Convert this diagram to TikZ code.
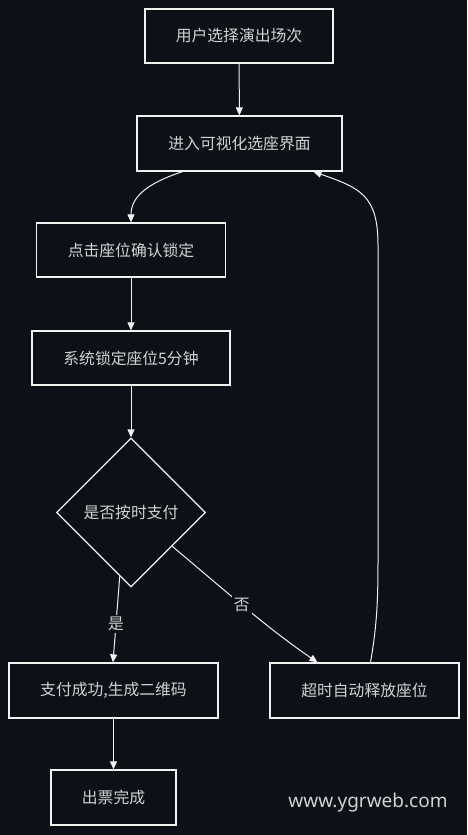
\documentclass[tikz,border=0pt]{standalone}
\usepackage{fontspec}
\setmainfont{Noto Sans CJK SC}
\newfontfamily\markfont{Noto Sans}
\usetikzlibrary{shapes.geometric,arrows.meta,calc}
\definecolor{bgdark}{HTML}{0D1017}
\definecolor{inkline}{HTML}{F2F2F2}
\definecolor{inktext}{HTML}{D2D2D2}

\begin{document}
\begin{tikzpicture}[x=1pt,y=-1pt,
  procbox/.style={draw=inkline,line width=1.3pt,fill=bgdark,text=inktext,inner sep=0pt,font=\fontsize{15.8}{19}\selectfont},
  decide/.style={diamond,aspect=1,draw=inkline,line width=1.3pt,fill=bgdark,text=inktext,inner sep=0pt,minimum width=149pt,minimum height=149pt,font=\fontsize{15.8}{19}\selectfont},
  flow/.style={draw=inkline,line width=1pt,-{Triangle[width=7pt,length=8pt]}},
  lbl/.style={fill=bgdark,text=inktext,inner sep=2pt,font=\fontsize{15.8}{19}\selectfont}]
\fill[bgdark] (0,0) rectangle (467,835);

% boxes
\node[procbox,minimum width=188pt,minimum height=54pt] (pick) at (239,36) {用户选择演出场次};
\node[procbox,minimum width=205pt,minimum height=55pt] (seatui) at (239.5,143.5) {进入可视化选座界面};
\node[procbox,minimum width=189pt,minimum height=54pt] (click) at (131,250) {点击座位确认锁定};
\node[procbox,minimum width=198pt,minimum height=54pt] (lock) at (131,358) {系统锁定座位5分钟};
\node[decide] (paid) at (131,512.5) {是否按时支付};
\node[procbox,minimum width=209pt,minimum height=55pt] (success) at (113.5,690.5) {支付成功,生成二维码};
\node[procbox,minimum width=189pt,minimum height=55pt] (release) at (364.5,690.5) {超时自动释放座位};
\node[procbox,minimum width=125pt,minimum height=55pt] (ticket) at (113.5,797.5) {出票完成};
\node[text=inktext,font=\markfont\fontsize{19}{23}\selectfont] (mark) at (368,803) {www.ygrweb.com};

% connectors
\draw[flow] (pick) -- (seatui);
\draw[flow] ([xshift=-57pt]seatui.south) .. controls (145,184) and (131,198) .. (click.north);
\draw[flow] (click) -- (lock);
\draw[flow] (lock) -- (paid);
\draw[flow] ($(paid.south)!0.15!(paid.west)$) -- node[lbl,pos=0.55] {是} ([xshift=-0.5pt]success.north);
\draw[flow] ($(paid.south)!0.55!(paid.east)$) .. controls (230,595) and (270,630) .. node[lbl,pos=0.45] {否} ([xshift=-47pt]release.north);
\draw[flow] ([xshift=6pt]release.north) .. controls (377,625) and (378,600) .. (378,560)
  -- (378,245) .. controls (378,195) and (360,188) .. ([xshift=74pt]seatui.south);
\draw[flow] (success) -- (ticket);
\end{tikzpicture}
\end{document}
